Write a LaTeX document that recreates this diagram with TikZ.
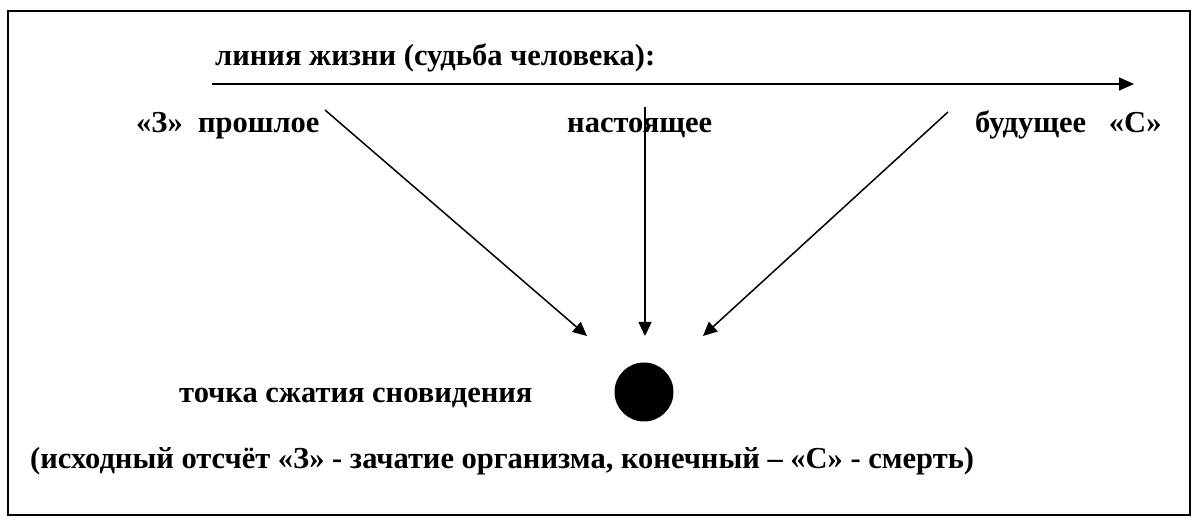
\documentclass[tikz,border=0pt]{standalone}
\usepackage{fontspec}
\setmainfont{Liberation Serif}
\usetikzlibrary{arrows.meta}
\begin{document}
\begin{tikzpicture}[x=1pt,y=-1pt,
  lbl/.style={font=\fontsize{30.5}{34}\selectfont\bfseries, inner sep=0pt},
  conn/.style={line width=1.5pt, -{Triangle[length=14pt,width=13pt]}},
  frame/.style={line width=2.5pt}]
\useasboundingbox (0,0) rectangle (1200,526);
\draw[frame] (8,11) rectangle (1190,515);
\node[lbl, anchor=base west] (title) at (215,66) {линия жизни (судьба человека):};
\coordinate (ls) at (212,84);
\coordinate (le) at (1134,84);
\draw[line width=1.5pt, -{Triangle[length=15pt,width=13pt]}] (ls) -- (le);
\node[lbl, anchor=base west] (past) at (136,133) {«З»\ \ прошлое};
\node[lbl, anchor=base west] (pres) at (567,133) {настоящее};
\node[lbl, anchor=base west] (fut) at (975,133) {будущее\ \ \ «С»};
\coordinate (s1) at (325,110);
\coordinate (s2) at (645,107);
\coordinate (s3) at (948,112);
\coordinate (e1) at (587,336);
\coordinate (e2) at (645,336);
\coordinate (e3) at (703,336);
\draw[conn] (s1) -- (e1);
\draw[conn] (s2) -- (e2);
\draw[conn] (s3) -- (e3);
\node[circle, fill=black, minimum size=59pt, inner sep=0pt] (dot) at (644,392) {};
\node[lbl, anchor=base west] (point) at (179,403) {точка сжатия сновидения};
\node[lbl, anchor=base west] (note) at (30,469) {(исходный отсчёт «З» - зачатие организма, конечный – «С» - смерть)};
\end{tikzpicture}
\end{document}
